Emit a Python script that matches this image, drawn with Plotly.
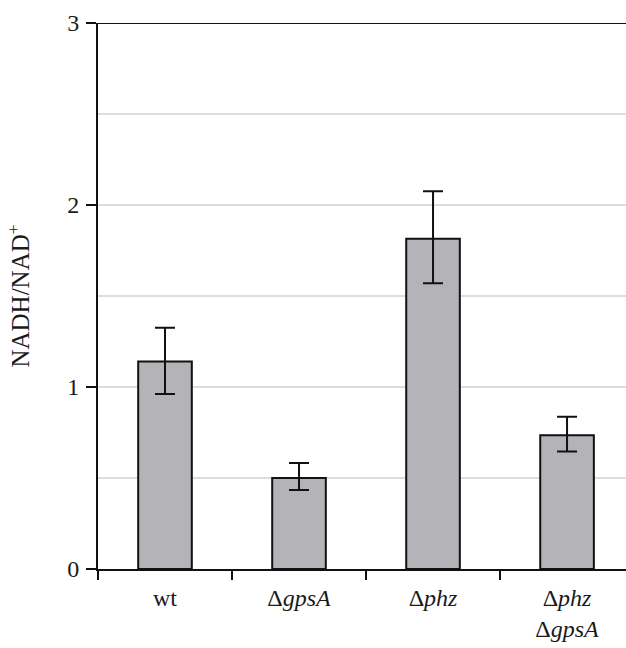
import plotly.graph_objects as go

categories = ["wt", "Δ<i>gpsA</i>", "Δ<i>phz</i>", "Δ<i>phz</i><br>Δ<i>gpsA</i>"]
ratio = [1.14, 0.50, 1.815, 0.735]
err_up = [0.185, 0.083, 0.26, 0.102]
err_down = [0.178, 0.066, 0.245, 0.09]
y_ticks = [0, 1, 2, 3]

FONT = "Liberation Serif"

fig = go.Figure()
fig.add_trace(go.Bar(
    x=categories, y=ratio, width=0.40,
    marker=dict(color="#b4b3b8", line=dict(color="#111111", width=2)),
    error_y=dict(type="data", symmetric=False, array=err_up, arrayminus=err_down,
                 color="#111111", thickness=2, width=10),
    showlegend=False,
))

fig.add_shape(type="line", xref="paper", yref="y", x0=0, x1=1, y0=3, y1=3,
              line=dict(color="#111111", width=2))

fig.update_layout(
    width=626, height=648,
    margin=dict(l=98, r=0, t=23, b=79),
    plot_bgcolor="white", paper_bgcolor="white",
    font=dict(family=FONT, size=24, color="#1a1a1a"),
    bargap=0.6,
    xaxis=dict(
        type="category", tickson="boundaries",
        ticks="outside", ticklen=9, tickwidth=2, tickcolor="#111111",
        showline=True, linecolor="#111111", linewidth=2,
        tickfont=dict(family=FONT, size=24, color="#1a1a1a"),
        ticklabelstandoff=6,
        range=[-0.5, 3.44], fixedrange=True,
    ),
    yaxis=dict(
        range=[0, 3], tickvals=y_ticks,
        ticks="outside", ticklen=10, tickwidth=2, tickcolor="#111111",
        showline=True, linecolor="#111111", linewidth=2,
        showgrid=True, gridcolor="#dcdedd", gridwidth=2,
        minor=dict(dtick=0.5, showgrid=True, gridcolor="#dcdedd", gridwidth=2, ticks=""),
        zeroline=False,
        tickfont=dict(family=FONT, size=24, color="#1a1a1a"),
        ticklabelstandoff=2,
        title=dict(text="NADH/NAD<sup>+</sup>", font=dict(family=FONT, size=25, color="#1a1a1a"),
                   standoff=30),
    ),
)

fig.write_html("out.html")
